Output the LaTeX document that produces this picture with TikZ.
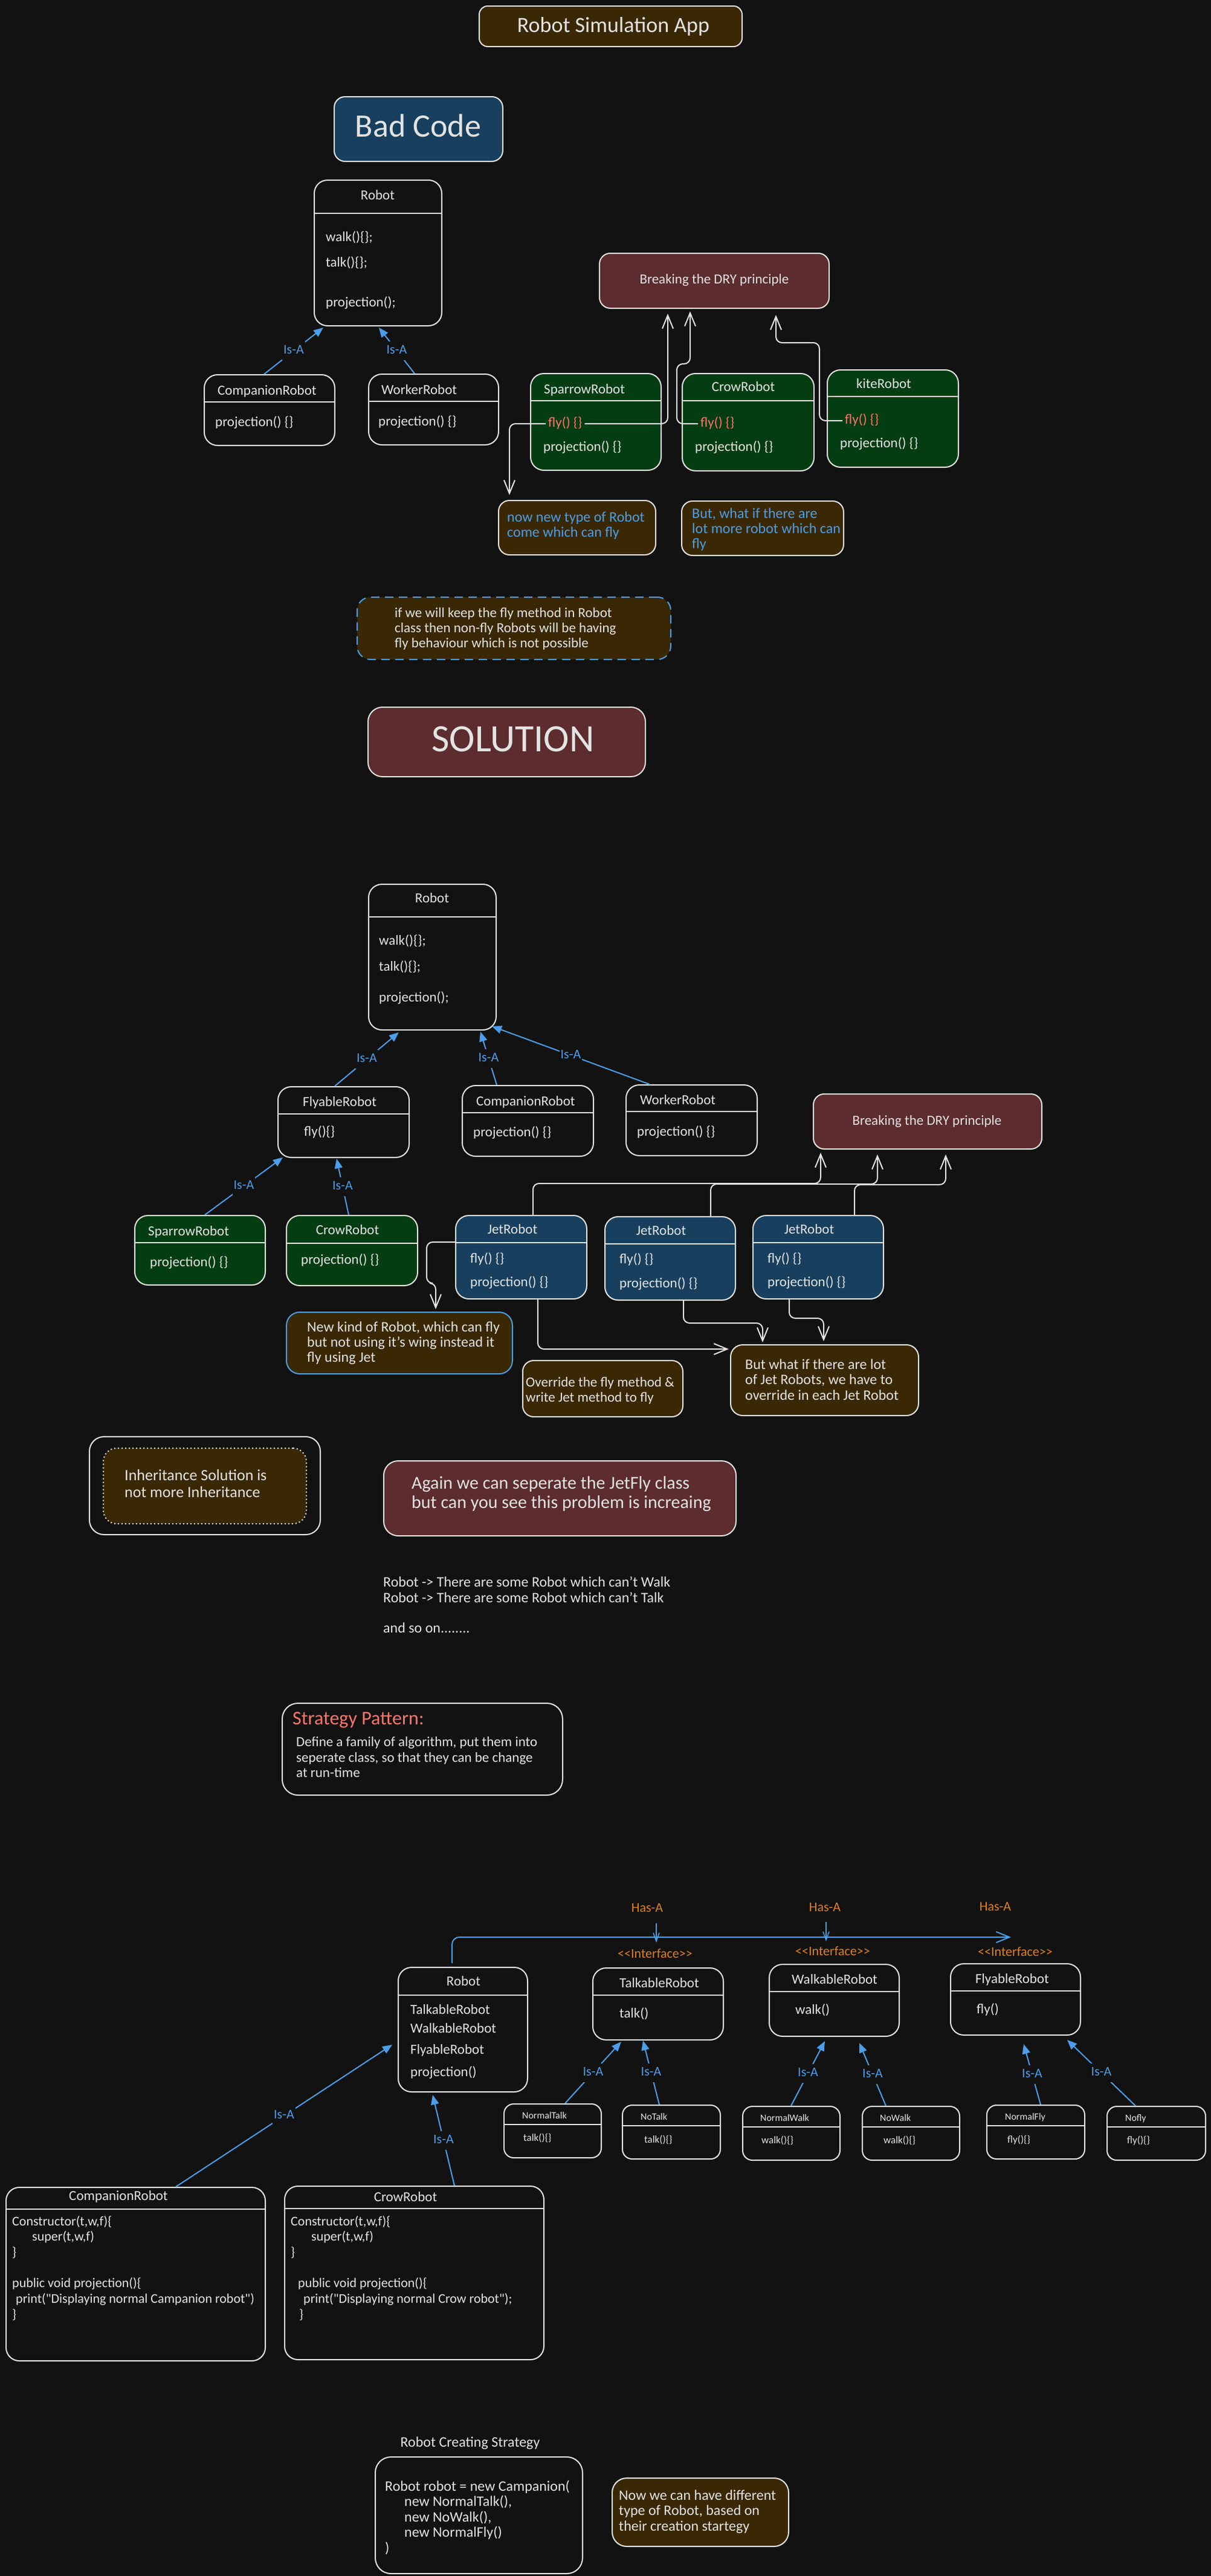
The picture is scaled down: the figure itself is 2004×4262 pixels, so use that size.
\documentclass[tikz,border=0pt]{standalone}
\usepackage{fontspec}
\setmainfont{Carlito}
\usetikzlibrary{fit,calc,arrows.meta}
\definecolor{bg}{HTML}{121212}
\definecolor{fg}{HTML}{E3E3E3}
\definecolor{isablue}{HTML}{4A9EEA}
\definecolor{brownf}{HTML}{3A2805}
\definecolor{maroonf}{HTML}{5C2C2E}
\definecolor{bluef}{HTML}{18405E}
\definecolor{greenf}{HTML}{053D12}
\definecolor{redt}{HTML}{FF7468}
\definecolor{oranget}{HTML}{E0801A}
\newcommand\fz[2]{\fontsize{#1}{#2}\selectfont}
\tikzset{
  box/.style={draw=fg, line width=2pt, rounded corners=22pt, inner sep=0pt},
  divider/.style={draw=fg, line width=2pt},
  tx/.style={inner sep=0pt, text=fg, align=left, anchor=west, font=\fz{23}{29},
    execute at begin node=\strut, execute at end node=\strut},
  tc/.style={tx, anchor=center, align=center},
  isa/.style={draw=isablue, line width=2pt, -{Triangle[length=16pt,width=13pt]}},
  isalbl/.style={tc, text=isablue, font=\fz{22}{27}, fill=bg, inner sep=2pt},
  dry/.style={draw=fg, line width=2pt, rounded corners=10pt, -{Straight Barb[length=22pt,width=18pt]}},
  hasa/.style={draw=isablue, line width=2pt, rounded corners=12pt, -{Straight Barb[length=22pt,width=18pt]}},
  smallarr/.style={draw=isablue, line width=1.5pt, -{Straight Barb[length=14pt,width=10pt]}},
  orangelbl/.style={tc, text=oranget, font=\fz{22}{27}},
}
\newcommand\clsbox[7][]{\node[box,#1,fit={(#3,#4) (#5,#6)}] (#2) {};\draw[divider] (#3,#7) -- (#5,#7);}
\newcommand\plainbox[6][]{\node[box,#1,fit={(#3,#4) (#5,#6)}] (#2) {};}
\begin{document}
\begin{tikzpicture}[x=1pt,y=-1pt]
\fill[bg] (0,0) rectangle (2004,4262);
\useasboundingbox (0,0) rectangle (2004,4262);

% ---------- Title and Bad Code ----------
\plainbox[fill=brownf, rounded corners=14pt]{title}{793}{10}{1228}{77}
\node[tc, font=\fz{36}{45}] (titleT) at (1015,44) {Robot Simulation App};
\plainbox[fill=bluef, rounded corners=18pt]{badcode}{553}{160}{832}{267}
\node[tc, font=\fz{54}{67}] (badcodeT) at (692,213) {Bad Code};

\clsbox{robotA}{520}{298}{731}{539}{353}
\node[tc] (robotAT) at (625,325) {Robot};
\node[tx] (robotA1) at (539,394) {walk()\{\};};
\node[tx] (robotA2) at (539,436) {talk()\{\};};
\node[tx] (robotA3) at (539,502) {projection();};

\clsbox{compA}{338}{620}{554}{737}{665}
\node[tx] (compAT) at (360,648) {CompanionRobot};
\node[tx] (compA1) at (356,700) {projection() \{\}};
\clsbox{workerA}{610}{619}{825}{736}{664}
\node[tx] (workerAT) at (631,647) {WorkerRobot};
\node[tx] (workerA1) at (626,699) {projection() \{\}};
\draw[isa] ($(compA.north west)+(100,0)$) -- node[isalbl] (isaA1) {Is-A} ($(robotA.south west)+(16,2)$);
\draw[isa] ($(workerA.north west)+(77,0)$) -- node[isalbl] (isaA2) {Is-A} ($(robotA.south west)+(108,2)$);

\clsbox[fill=greenf]{spA}{878}{618}{1094}{778}{663}
\node[tx] (spAT) at (900,646) {SparrowRobot};
\node[tx, text=redt, inner xsep=4pt] (spAfly) at (903,701) {fly() \{\}};
\node[tx] (spA1) at (899,741) {projection() \{\}};
\clsbox[fill=greenf]{crA}{1129}{618}{1347}{779}{663}
\node[tc] (crAT) at (1230,642) {CrowRobot};
\node[tx, text=redt, inner xsep=4pt] (crAfly) at (1155,701) {fly() \{\}};
\node[tx] (crA1) at (1150,741) {projection() \{\}};
\clsbox[fill=greenf]{kite}{1369}{612}{1586}{773}{656}
\node[tx] (kiteT) at (1417,637) {kiteRobot};
\node[tx, text=redt, inner xsep=4pt] (kiFly) at (1394,696) {fly() \{\}};
\node[tx] (kite1) at (1390,735) {projection() \{\}};
\plainbox[fill=maroonf, rounded corners=18pt]{breakA}{992}{419}{1372}{510}
\node[tc] (breakAT) at (1182,464) {Breaking the DRY principle};

\plainbox[fill=brownf, rounded corners=18pt]{note1}{825}{828}{1085}{918}
\node[tx, text=isablue, font=\fz{24}{25}] (note1T) at (839,871) {now new type of Robot\\come which can fly};
\plainbox[fill=brownf, rounded corners=18pt]{note2}{1128}{829}{1396}{919}
\node[tx, text=isablue, font=\fz{24}{25}] (note2T) at (1145,878) {But, what if there are\\lot more robot which can\\fly};

\draw[dry] (spAfly.east) -| ($(breakA.south west)+(114,8)$);
\draw[dry] (spAfly.west) -| ($(note1.north west)+(19,-8)$);
\draw[dry] (crAfly.west) -- ++(-35,0) |- ($(breakA.south west)+(151,91)$) -- ($(breakA.south west)+(151,4)$);
\draw[dry] (kiFly.west) -- ++(-38,0) |- ($(breakA.south west)+(293,56)$) -- ($(breakA.south west)+(293,10)$);

\plainbox[fill=brownf, draw=isablue, dash pattern=on 14pt off 9pt, rounded corners=22pt]{dashnote}{591}{988}{1110}{1091}
\node[tx, font=\fz{23}{25}] (dashT) at (653,1042) {if we will keep the fly method in Robot\\class then non-fly Robots will be having\\fly behaviour which is not possible};

\plainbox[fill=maroonf, rounded corners=24pt]{solution}{609}{1170}{1068}{1285}
\node[tc, font=\fz{64}{76}] (solutionT) at (849,1228) {SOLUTION};

% ---------- Solution inheritance ----------
\clsbox{robotB}{610}{1463}{821}{1704}{1517}
\node[tc] (robotBT) at (715,1488) {Robot};
\node[tx] (robotB1) at (627,1558) {walk()\{\};};
\node[tx] (robotB2) at (627,1601) {talk()\{\};};
\node[tx] (robotB3) at (627,1652) {projection();};

\clsbox{flyB}{460}{1798}{677}{1915}{1843}
\node[tx] (flyBT) at (501,1825) {FlyableRobot};
\node[tx] (flyB1) at (503,1874) {fly()\{\}};
\clsbox{compB}{765}{1796}{982}{1913}{1841}
\node[tx] (compBT) at (788,1824) {CompanionRobot};
\node[tx] (compB1) at (783,1875) {projection() \{\}};
\clsbox{workerB}{1036}{1795}{1253}{1912}{1839}
\node[tx] (workerBT) at (1059,1822) {WorkerRobot};
\node[tx] (workerB1) at (1054,1874) {projection() \{\}};
\draw[isa] ($(flyB.north west)+(95,0)$) -- node[isalbl] (isaB1) {Is-A} ($(robotB.south west)+(51,3)$);
\draw[isa] ($(compB.north west)+(58,0)$) -- node[isalbl] (isaB2) {Is-A} ($(robotB.south west)+(186,2)$);
\draw[isa] ($(workerB.north west)+(40,0)$) -- node[isalbl] (isaB3) {Is-A} ($(robotB.south east)+(-8,-7)$);

\clsbox[fill=greenf]{spB}{223}{2011}{439}{2126}{2056}
\node[tx] (spBT) at (245,2039) {SparrowRobot};
\node[tx] (spB1) at (248,2090) {projection() \{\}};
\clsbox[fill=greenf]{crB}{474}{2011}{691}{2127}{2057}
\node[tc] (crBT) at (575,2037) {CrowRobot};
\node[tx] (crB1) at (498,2086) {projection() \{\}};
\draw[isa] ($(spB.north west)+(117,0)$) -- node[isalbl] (isaB4) {Is-A} ($(flyB.south west)+(9,-1)$);
\draw[isa] ($(crB.north west)+(104,0)$) -- node[isalbl] (isaB5) {Is-A} ($(flyB.south west)+(98,1)$);

\clsbox[fill=bluef]{jet1}{754}{2011}{971}{2149}{2056}
\node[tc] (jet1T) at (848,2036) {JetRobot};
\node[tx] (jet1a) at (778,2084) {fly() \{\}};
\node[tx] (jet1b) at (778,2123) {projection() \{\}};
\clsbox[fill=bluef]{jet2}{1001}{2013}{1217}{2151}{2058}
\node[tc] (jet2T) at (1094,2038) {JetRobot};
\node[tx] (jet2a) at (1025,2085) {fly() \{\}};
\node[tx] (jet2b) at (1025,2125) {projection() \{\}};
\clsbox[fill=bluef]{jet3}{1246}{2011}{1462}{2149}{2056}
\node[tc] (jet3T) at (1339,2036) {JetRobot};
\node[tx] (jet3a) at (1270,2084) {fly() \{\}};
\node[tx] (jet3b) at (1270,2123) {projection() \{\}};
\plainbox[fill=maroonf, rounded corners=18pt]{breakB}{1346}{1810}{1724}{1901}
\node[tc] (breakBT) at (1534,1856) {Breaking the DRY principle};

\plainbox[fill=brownf, draw=isablue, rounded corners=22pt]{newkind}{474}{2171}{848}{2273}
\node[tx, font=\fz{24}{25}] (newkindT) at (508,2224) {New kind of Robot, which can fly\\but not using it's wing instead it\\fly using Jet};
\plainbox[fill=brownf, rounded corners=18pt]{override}{865}{2251}{1130}{2344}
\node[tx, font=\fz{23}{25}] (overrideT) at (870,2303) {Override the fly method \&\\write Jet method to fly};
\plainbox[fill=brownf, rounded corners=20pt]{butwhat}{1209}{2225}{1520}{2342}
\node[tx, font=\fz{24}{25.5}] (butwhatT) at (1233,2286) {But what if there are lot\\of Jet Robots, we have to\\override in each Jet Robot};

\draw[dry] ($(jet1.north west)+(129,0)$) |- ($(breakB.south west)+(13,56)$) -- ($(breakB.south west)+(13,5)$);
\draw[dry] ($(jet2.north west)+(176,0)$) |- ($(breakB.south west)+(107,57)$) -- ($(breakB.south west)+(107,8)$);
\draw[dry] ($(jet3.north west)+(169,0)$) |- ($(breakB.south west)+(220,58)$) -- ($(breakB.south west)+(220,8)$);
\draw[dry] ($(jet1.north west)+(0,45)$) -- ++(-47,0) -- ++(0,68) -| ($(newkind.north west)+(248,-4)$);
\draw[dry] ($(jet1.south west)+(137,0)$) |- ($(butwhat.north west)+(-2,8)$);
\draw[dry] ($(jet2.south west)+(131,0)$) -- ++(0,37) -| ($(butwhat.north west)+(54,-3)$);
\draw[dry] ($(jet3.south west)+(61,0)$) -- ++(0,31) -| ($(butwhat.north west)+(155,-5)$);

% ---------- Inheritance summary ----------
\plainbox[rounded corners=24pt]{inhOuter}{148}{2377}{530}{2539}
\plainbox[fill=brownf, dash pattern=on 2pt off 4pt, rounded corners=22pt]{inhInner}{171}{2396}{507}{2521}
\node[tx, font=\fz{26}{28}] (inhT) at (206,2459) {Inheritance Solution is\\not more Inheritance};
\plainbox[fill=maroonf, rounded corners=24pt]{again}{635}{2417}{1218}{2541}
\node[tx, font=\fz{30}{32}] (againT) at (681,2474) {Again we can seperate the JetFly class\\but can you see this problem is increaing};
\node[tx, font=\fz{24}{25.3}] (freeT) at (634,2659) {Robot -> There are some Robot which can't Walk\\Robot -> There are some Robot which can't Talk\\\mbox{}\\and so on........};

\plainbox[rounded corners=26pt]{strat}{467}{2818}{931}{2970}
\node[tx, text=redt, font=\fz{32}{40}] (stratT) at (484,2845) {Strategy Pattern:};
\node[tx, font=\fz{23}{25.5}] (stratD) at (490,2911) {Define a family of algorithm, put them into\\seperate class, so that they can be change\\at run-time};

% ---------- Strategy design ----------
\clsbox{robotC}{659}{3255}{873}{3461}{3301}
\node[tc] (robotCT) at (767,3280) {Robot};
\node[tx] (robotC1) at (679,3327) {TalkableRobot};
\node[tx] (robotC2) at (679,3358) {WalkableRobot};
\node[tx] (robotC3) at (679,3393) {FlyableRobot};
\node[tx] (robotC4) at (679,3430) {projection()};

\coordinate (hasEnd) at (1673,3205);
\draw[hasa] ($(robotC.north west)+(90,-6)$) |- (hasEnd);
\node[orangelbl] (hasA1) at (1071,3158) {Has-A};
\node[orangelbl] (hasA2) at (1365,3157) {Has-A};
\node[orangelbl] (hasA3) at (1647,3156) {Has-A};
\coordinate (hasTip1) at (1086,3214);
\coordinate (hasTip2) at (1367,3212);
\draw[smallarr] ($(hasA1.south)+(15,10)$) -- (hasTip1);
\draw[smallarr] ($(hasA2.south)+(2,9)$) -- (hasTip2);
\node[orangelbl] (intf1) at (1084,3234) {<{}<Interface>{}>};
\node[orangelbl] (intf2) at (1378,3230) {<{}<Interface>{}>};
\node[orangelbl] (intf3) at (1680,3231) {<{}<Interface>{}>};

\clsbox{talkable}{981}{3256}{1197}{3375}{3301}
\node[tc] (talkableT) at (1091,3283) {TalkableRobot};
\node[tx] (talkable1) at (1025,3333) {talk()};
\clsbox{walkable}{1273}{3250}{1488}{3369}{3295}
\node[tc] (walkableT) at (1381,3277) {WalkableRobot};
\node[tx] (walkable1) at (1316,3327) {walk()};
\clsbox{flyable}{1573}{3249}{1788}{3367}{3294}
\node[tc] (flyableT) at (1675,3276) {FlyableRobot};
\node[tx] (flyable1) at (1616,3326) {fly()};

\clsbox[rounded corners=16pt]{nTalk}{834}{3481}{995}{3570}{3515}
\node[tx, font=\fz{16}{20}] (nTalkT) at (864,3501) {NormalTalk};
\node[tx, font=\fz{17}{21}] (nTalk1) at (866,3538) {talk()\{\}};
\clsbox[rounded corners=16pt]{noTalk}{1030}{3483}{1192}{3572}{3517}
\node[tx, font=\fz{16}{20}] (noTalkT) at (1060,3503) {NoTalk};
\node[tx, font=\fz{17}{21}] (noTalk1) at (1066,3541) {talk()\{\}};
\clsbox[rounded corners=16pt]{nWalk}{1229}{3485}{1390}{3574}{3519}
\node[tx, font=\fz{16}{20}] (nWalkT) at (1258,3505) {NormalWalk};
\node[tx, font=\fz{17}{21}] (nWalk1) at (1260,3542) {walk()\{\}};
\clsbox[rounded corners=16pt]{noWalk}{1427}{3485}{1588}{3574}{3519}
\node[tx, font=\fz{16}{20}] (noWalkT) at (1456,3505) {NoWalk};
\node[tx, font=\fz{17}{21}] (noWalk1) at (1462,3542) {walk()\{\}};
\clsbox[rounded corners=16pt]{nFly}{1633}{3483}{1795}{3572}{3517}
\node[tx, font=\fz{16}{20}] (nFlyT) at (1663,3503) {NormalFly};
\node[tx, font=\fz{17}{21}] (nFly1) at (1667,3541) {fly()\{\}};
\clsbox[rounded corners=16pt]{noFly}{1832}{3485}{1995}{3574}{3519}
\node[tx, font=\fz{16}{20}] (noFlyT) at (1862,3505) {Nofly};
\node[tx, font=\fz{17}{21}] (noFly1) at (1865,3542) {fly()\{\}};

\draw[isa] ($(nTalk.north west)+(102,0)$) -- node[isalbl] (isaC1) {Is-A} ($(talkable.south west)+(48,2)$);
\draw[isa] ($(noTalk.north west)+(62,0)$) -- node[isalbl] (isaC2) {Is-A} ($(talkable.south west)+(84,0)$);
\draw[isa] ($(nWalk.north west)+(81,0)$) -- node[isalbl] (isaC3) {Is-A} ($(walkable.south west)+(93,7)$);
\draw[isa] ($(noWalk.north west)+(40,0)$) -- node[isalbl] (isaC4) {Is-A} ($(walkable.south west)+(150,10)$);
\draw[isa] ($(nFly.north west)+(90,0)$) -- node[isalbl] (isaC5) {Is-A} ($(flyable.south west)+(122,14)$);
\draw[isa] ($(noFly.north west)+(48,0)$) -- node[isalbl] (isaC6) {Is-A} ($(flyable.south west)+(194,7)$);

\clsbox{compC}{10}{3619}{439}{3906}{3655}
\node[tc] (compCT) at (196,3635) {CompanionRobot};
\node[tx, font=\fz{22}{25.7}] (compCcode) at (20,3755) {Constructor(t,w,f)\{\\\hspace*{33pt}super(t,w,f)\\\}\\\mbox{}\\public void projection()\{\\\hspace*{6pt}print(\textquotedbl Displaying normal Campanion robot\textquotedbl)\\\}};
\clsbox{crowC}{471}{3617}{900}{3904}{3654}
\node[tc] (crowCT) at (671,3637) {CrowRobot};
\node[tx, font=\fz{22}{25.7}] (crowCcode) at (481,3755) {Constructor(t,w,f)\{\\\hspace*{34pt}super(t,w,f)\\\}\\\mbox{}\\\hspace*{12pt}public void projection()\{\\\hspace*{21pt}print(\textquotedbl Displaying normal Crow robot\textquotedbl);\\\hspace*{14pt}\}};
\draw[isa] ($(compC.north west)+(282,0)$) -- node[isalbl] (isaC7) {Is-A} ($(robotC.north west)+(-9,129)$);
\draw[isa] ($(crowC.north west)+(282,0)$) -- node[isalbl] (isaC8) {Is-A} ($(robotC.south west)+(58,4)$);

\node[tc, font=\fz{24}{30}] (createT) at (778,4042) {Robot Creating Strategy};
\plainbox[rounded corners=26pt]{codebox}{621}{4065}{964}{4258}
\node[tx, font=\fz{24}{25.5}] (codeT) at (637,4167) {Robot robot = new Campanion(\\\hspace*{32pt}new NormalTalk(),\\\hspace*{32pt}new NoWalk(),\\\hspace*{32pt}new NormalFly()\\)};
\plainbox[fill=brownf, rounded corners=24pt]{finalnote}{1013}{4100}{1305}{4213}
\node[tx, font=\fz{24}{25.5}] (finalT) at (1024,4157) {Now we can have different\\type of Robot, based on\\their creation startegy};
\end{tikzpicture}
\end{document}
